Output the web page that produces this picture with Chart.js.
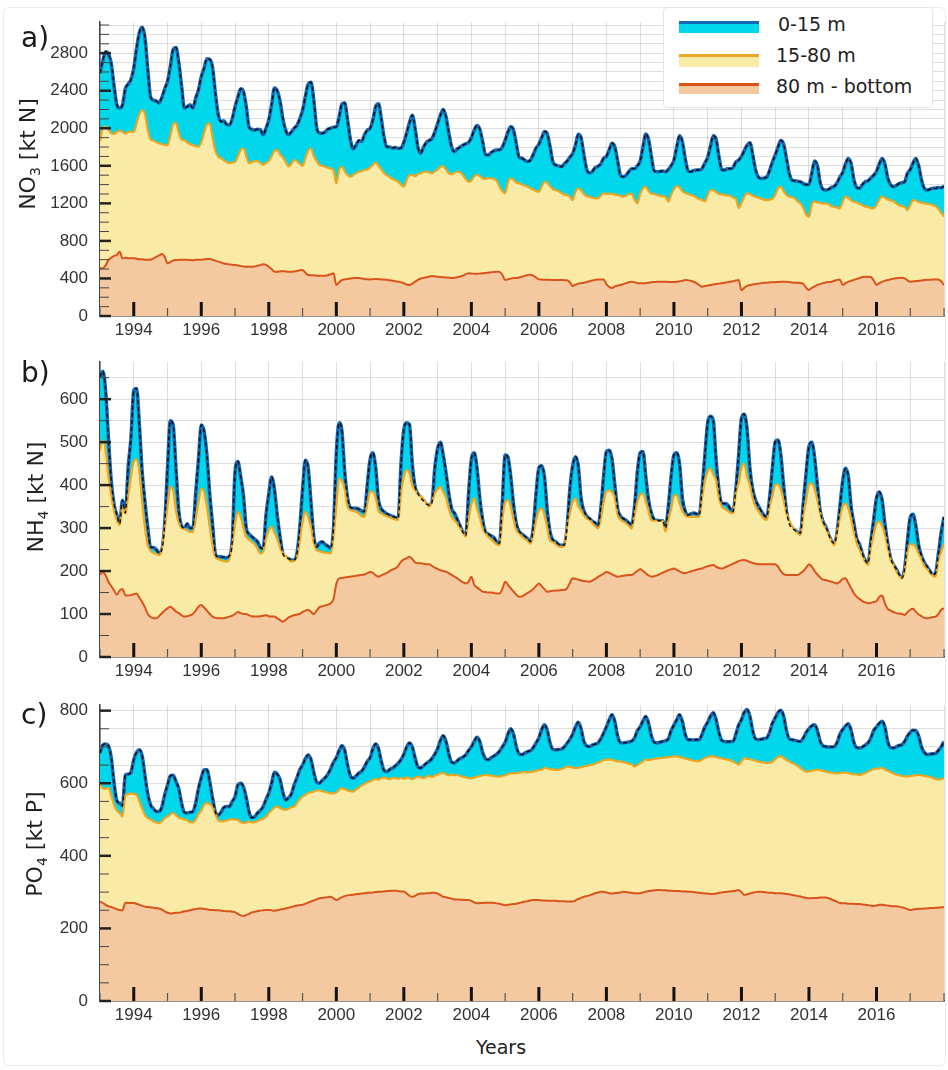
<!DOCTYPE html>
<html>
<head>
<meta charset="utf-8">
<script src="https://cdn.jsdelivr.net/npm/chart.js"></script>
<style>
  body { margin: 0; background: #fff; width: 948px; height: 1070px; position: relative; overflow: hidden; font-family: "DejaVu Sans", sans-serif; }
  .frame { position: absolute; left: 3px; top: 7px; width: 943px; height: 1059px; border: 1px solid #ececec; border-radius: 6px; box-sizing: border-box; }
  canvas { position: absolute; left: 0; }
  .tag { position: absolute; left: 21px; font-size: 28px; line-height: 34px; color: #1a1a1a; }
  .ytitle { position: absolute; font-family: "DejaVu Sans"; font-size: 22px; color: #222; white-space: nowrap; transform: translate(-50%, -50%) rotate(-90deg); }
  .ytitle sub { font-size: 14px; }
  #legend { position: absolute; left: 663px; top: 7px; width: 270px; height: 101px; background: #fff; border: 1px solid #e4e4e4; border-radius: 4px; box-sizing: border-box; }
  #legend .sw { position: absolute; left: 15px; width: 80px; box-sizing: border-box; }
  #legend .lt { position: absolute; font-size: 19px; line-height: 22px; color: #222; white-space: pre; }
  .xtitle { position: absolute; left: 401px; width: 200px; top: 1036px; text-align: center; font-size: 19px; line-height: 22px; color: #222; }
</style>
</head>
<body>
<div class="frame"></div>
<canvas id="chartA" width="948" height="346" style="top:0px"></canvas>
<canvas id="chartB" width="948" height="347" style="top:340px"></canvas>
<canvas id="chartC" width="948" height="348" style="top:683px"></canvas>

<div class="tag" style="top:21px">a)</div>
<div class="tag" style="top:356px">b)</div>
<div class="tag" style="top:698px">c)</div>

<div class="ytitle" style="left:29px;top:154px">NO<sub>3</sub> [kt N]</div>
<div class="ytitle" style="left:37px;top:497px">NH<sub>4</sub> [kt N]</div>
<div class="ytitle" style="left:36px;top:844px">PO<sub>4</sub> [kt P]</div>

<div class="xtitle">Years</div>

<div id="legend">
  <div class="sw" style="top:13px;height:12px;border-top:3px solid #1467b3;background:#00d7ea"></div>
  <div class="lt" style="left:114px;top:5px">0-15 m</div>
  <div class="sw" style="top:46px;height:13px;border-top:3px solid #eaa624;background:#f9eaa6"></div>
  <div class="lt" style="left:112px;top:36px">15-80 m</div>
  <div class="sw" style="top:75px;height:11px;border-top:3px solid #d9541c;background:#f5c9a0"></div>
  <div class="lt" style="left:112px;top:67px">80 m - bottom</div>
</div>

<script>
// monthly values, Jan 1993 .. Jan 2018 (one row per year)
const startYear = 1993;
const endYear = 2018;

const no3Total = [
  2585,2720,2815,2790,2690,2450,2250,2215,2250,2420,2470,2520,
  2640,2850,3020,3075,2960,2620,2330,2300,2290,2270,2330,2420,
  2500,2660,2840,2860,2700,2450,2215,2230,2250,2215,2320,2410,
  2550,2640,2740,2735,2650,2380,2150,2070,2080,2040,2034,2100,
  2230,2330,2420,2390,2230,2010,1990,1980,1990,1985,1930,2000,
  2090,2250,2430,2400,2290,2100,1980,1930,1960,2000,2030,2100,
  2190,2340,2470,2490,2300,2010,1950,1946,1960,1990,2000,2010,
  2016,2120,2260,2270,2090,1880,1780,1820,1870,1860,1930,1980,
  2000,2090,2230,2260,2100,1900,1800,1800,1790,1795,1785,1790,
  1850,1950,2060,2140,2000,1800,1735,1800,1850,1870,1890,1960,
  2050,2140,2200,2120,1950,1800,1750,1780,1800,1820,1835,1850,
  1900,1980,2030,1990,1860,1720,1715,1740,1760,1768,1770,1800,
  1870,1960,2015,1980,1830,1690,1680,1660,1645,1660,1720,1790,
  1830,1900,1965,1940,1800,1640,1608,1600,1590,1620,1650,1690,
  1730,1820,1935,1900,1720,1560,1525,1540,1580,1595,1620,1680,
  1700,1770,1840,1800,1650,1500,1484,1500,1540,1570,1570,1600,
  1650,1800,1940,1880,1700,1545,1537,1540,1545,1537,1560,1600,
  1660,1800,1920,1860,1680,1550,1537,1550,1555,1555,1570,1630,
  1690,1810,1920,1880,1700,1560,1555,1570,1570,1580,1640,1660,
  1700,1760,1820,1845,1720,1560,1480,1466,1470,1480,1550,1640,
  1715,1800,1870,1830,1680,1520,1448,1440,1435,1430,1410,1400,
  1400,1520,1650,1600,1420,1350,1342,1350,1370,1380,1420,1480,
  1530,1620,1679,1620,1450,1370,1360,1400,1430,1440,1470,1500,
  1540,1620,1679,1620,1470,1400,1377,1390,1410,1420,1430,1520,
  1560,1630,1679,1600,1450,1360,1342,1350,1360,1360,1370,1365,
  1385
];
const no3Below15 = [
  1860,2000,2020,1980,1950,1940,1960,1975,1960,1945,1960,1965,
  1960,2050,2150,2194,2150,1980,1880,1870,1850,1840,1830,1820,
  1820,1920,2040,2059,1950,1880,1870,1850,1830,1820,1810,1803,
  1850,1950,2040,2052,1900,1760,1697,1680,1660,1640,1629,1635,
  1640,1700,1770,1787,1700,1630,1640,1650,1650,1630,1611,1630,
  1650,1700,1760,1768,1720,1690,1640,1593,1620,1660,1650,1620,
  1600,1680,1760,1787,1700,1650,1610,1600,1590,1580,1570,1555,
  1413,1560,1590,1540,1500,1484,1500,1520,1537,1545,1555,1560,
  1580,1610,1633,1600,1560,1520,1500,1480,1460,1445,1430,1400,
  1377,1450,1500,1502,1490,1510,1520,1537,1537,1530,1520,1540,
  1560,1590,1597,1560,1520,1510,1525,1537,1530,1500,1460,1430,
  1440,1490,1502,1490,1466,1460,1470,1466,1460,1440,1380,1330,
  1307,1420,1466,1450,1420,1413,1400,1390,1377,1360,1345,1330,
  1324,1380,1430,1420,1380,1350,1342,1330,1310,1295,1289,1270,
  1235,1320,1360,1340,1300,1275,1270,1260,1254,1254,1280,1307,
  1300,1300,1300,1295,1290,1280,1271,1280,1300,1300,1240,1200,
  1300,1360,1377,1330,1306,1300,1290,1280,1275,1271,1218,1290,
  1350,1385,1370,1330,1310,1300,1290,1280,1260,1245,1235,1220,
  1290,1342,1340,1320,1300,1295,1290,1285,1280,1260,1250,1150,
  1200,1270,1306,1300,1280,1271,1260,1250,1240,1235,1240,1250,
  1290,1360,1377,1330,1290,1271,1265,1250,1220,1200,1150,1080,
  1058,1190,1218,1210,1205,1200,1200,1190,1170,1165,1155,1147,
  1220,1271,1260,1230,1218,1210,1195,1180,1165,1160,1150,1147,
  1180,1240,1271,1260,1240,1235,1220,1200,1180,1170,1165,1129,
  1180,1235,1230,1215,1205,1200,1195,1190,1182,1170,1140,1100,
  1058
];
const no3Below80 = [
  508,510,540,596,620,640,650,685,612,620,615,614,
  614,610,605,605,600,600,600,615,630,645,660,630,
  561,575,590,596,598,600,600,598,596,595,598,600,
  600,603,606,606,600,590,579,570,560,555,550,545,
  543,538,533,528,525,525,525,528,535,542,550,545,
  525,500,472,472,475,478,475,472,472,475,480,488,
  490,460,437,435,432,430,428,428,430,435,445,455,
  330,360,383,390,395,400,403,406,406,400,395,392,
  390,392,394,392,390,388,385,380,375,370,365,360,
  350,335,330,345,365,385,400,406,412,420,425,422,
  418,415,412,410,408,406,408,412,420,430,445,455,
  452,450,450,452,455,458,462,466,470,472,470,440,
  383,390,398,404,406,410,418,428,438,440,430,410,
  390,388,387,386,385,384,383,383,383,382,381,360,
  320,335,345,350,355,362,370,378,385,390,390,388,
  340,310,298,315,325,330,340,350,360,365,360,350,
  348,348,350,355,360,362,365,366,366,365,363,362,
  362,365,370,375,383,380,375,365,350,330,312,320,
  325,330,335,340,345,350,355,360,365,370,378,383,
  275,300,320,330,335,340,345,350,353,355,358,360,
  360,362,364,365,365,362,358,355,355,352,340,300,
  277,300,315,330,340,350,358,362,365,375,385,390,
  330,350,365,375,385,395,405,415,419,419,415,380,
  330,350,365,375,383,390,398,402,405,408,400,380,
  365,368,372,375,378,383,385,387,388,390,390,370,
  330
];

const nh4Total = [
  652,665,620,510,410,355,330,310,365,335,440,510,
  620,625,540,430,360,300,255,255,250,242,250,310,
  440,550,540,440,340,305,300,310,300,300,380,460,
  540,525,470,380,310,240,233,233,232,231,235,270,
  430,455,420,375,300,286,280,274,268,255,252,330,
  380,419,390,330,280,240,232,229,226,226,240,300,
  390,458,440,360,280,256,265,268,262,258,253,300,
  474,545,525,430,370,348,346,346,344,340,338,400,
  460,475,440,365,345,338,333,330,327,325,323,450,
  530,545,541,450,396,380,370,363,356,353,360,440,
  485,500,470,428,380,345,335,320,305,290,282,380,
  460,475,440,370,320,291,286,282,278,268,264,360,
  470,465,420,355,310,292,286,281,275,268,300,381,
  440,445,419,340,290,272,268,262,260,260,300,390,
  445,466,445,370,340,328,322,316,312,305,345,420,
  478,481,460,400,345,328,322,318,312,307,350,430,
  475,478,420,365,335,320,318,317,317,300,350,420,
  470,475,450,370,340,330,333,335,333,330,390,470,
  545,560,550,458,390,357,357,355,345,338,390,470,
  555,565,530,440,390,365,352,340,330,326,370,440,
  500,505,470,400,340,310,300,295,290,288,360,430,
  490,500,465,400,340,315,303,285,270,264,290,350,
  410,439,420,350,310,275,262,240,225,218,270,320,
  370,384,365,310,265,230,215,205,192,183,205,270,
  325,332,305,260,235,220,210,200,191,195,240,290,
  326
];
const nh4Below15 = [
  481,505,480,419,375,340,318,307,350,334,375,420,
  455,460,430,360,300,260,247,242,240,237,250,300,
  350,396,388,340,312,300,298,295,291,291,320,360,
  392,385,350,303,260,232,228,225,223,222,228,260,
  310,338,326,300,280,273,268,262,252,241,245,275,
  295,303,290,275,255,241,235,228,222,224,232,270,
  315,338,325,303,265,249,246,244,243,242,241,280,
  350,415,410,390,350,342,340,338,334,328,326,355,
  385,385,370,340,334,330,328,325,322,320,319,380,
  420,435,428,400,388,380,374,368,358,350,360,381,
  390,396,385,370,345,326,318,310,300,290,280,320,
  355,370,345,325,300,288,280,274,268,262,260,320,
  360,365,350,320,295,288,280,275,270,264,285,319,
  340,346,330,300,270,268,262,258,256,258,300,335,
  360,369,350,342,330,322,319,312,305,299,320,360,
  385,388,384,370,330,320,315,311,305,299,330,360,
  378,380,362,340,318,317,317,317,317,292,320,345,
  375,377,357,340,330,326,326,326,326,326,370,410,
  432,439,425,410,370,350,345,340,336,334,380,405,
  440,450,420,400,370,350,340,330,322,319,350,375,
  400,402,390,365,335,318,305,295,288,284,330,365,
  400,404,390,365,335,310,299,285,270,260,290,325,
  350,357,345,320,290,265,250,235,222,214,255,285,
  310,315,305,285,255,226,215,200,190,183,200,245,
  262,262,255,240,228,212,205,196,189,187,225,245,
  264
];
const nh4Below80 = [
  191,198,190,175,165,155,145,155,158,144,143,144,
  146,148,138,128,115,100,93,90,90,95,102,108,
  113,117,112,106,102,97,94,95,97,100,108,117,
  121,115,108,100,94,91,90,90,90,92,94,96,
  100,105,102,100,100,97,95,94,94,95,96,97,
  95,94,94,90,86,82,86,92,95,97,99,100,
  105,108,110,105,100,108,116,118,120,122,125,135,
  170,183,184,185,186,187,188,189,190,191,192,195,
  198,196,190,187,190,193,196,200,204,206,212,222,
  227,230,233,228,220,218,218,217,216,216,212,208,
  205,202,200,198,195,191,187,183,178,174,171,175,
  187,168,162,157,152,151,150,150,149,148,148,158,
  175,168,160,152,145,140,141,145,149,153,158,165,
  171,165,158,152,153,154,155,155,156,156,160,172,
  183,182,180,178,177,176,175,178,182,186,190,194,
  198,196,192,189,187,188,189,190,191,191,195,200,
  205,200,195,190,187,188,190,193,196,199,202,204,
  206,203,199,196,195,197,199,201,203,205,206,209,
  211,213,214,210,207,206,208,211,214,217,220,223,
  225,226,224,221,219,217,216,216,216,216,216,216,
  216,210,200,193,191,191,191,191,191,195,200,208,
  216,210,200,192,185,180,179,177,175,173,171,175,
  182,183,172,160,148,140,135,130,127,125,126,128,
  130,140,143,125,112,108,105,102,101,100,98,104,
  110,112,105,99,95,91,90,91,93,94,100,110,
  113
];

const po4Total = [
  683,705,708,703,670,600,552,545,538,623,625,630,
  665,685,692,675,620,570,540,530,522,522,535,568,
  595,620,622,605,585,545,520,518,520,522,545,585,
  615,637,637,605,560,520,512,520,533,536,536,550,
  563,595,600,590,560,520,505,508,518,525,536,555,
  573,600,630,625,610,575,554,560,570,595,615,637,
  650,668,678,665,630,603,600,608,615,625,640,658,
  670,690,703,690,650,620,614,620,628,633,645,660,
  670,695,708,695,660,635,632,638,642,648,655,665,
  680,700,711,700,670,645,642,648,655,660,668,680,
  695,718,731,715,680,658,656,662,668,672,678,690,
  700,715,727,715,685,668,665,670,675,680,688,700,
  712,735,750,735,700,681,679,683,687,690,698,711,
  725,748,761,745,710,693,692,693,694,700,710,721,
  735,755,768,750,715,703,701,705,708,711,722,738,
  755,775,789,770,730,712,711,712,714,716,725,745,
  755,772,784,765,730,713,711,713,715,717,722,745,
  760,775,789,770,735,720,720,719,720,720,735,755,
  768,785,794,775,740,718,715,714,715,715,735,760,
  775,795,803,785,745,722,720,721,723,725,740,765,
  780,795,801,785,745,722,720,718,716,715,725,740,
  750,758,761,745,715,703,701,700,700,701,712,735,
  748,758,764,745,712,698,697,700,705,711,725,745,
  755,765,771,755,715,698,697,700,704,706,715,730,
  740,746,745,730,700,685,679,680,681,682,690,700,
  715
];
const po4Below15 = [
  600,585,585,587,565,540,525,518,508,565,570,572,
  570,568,550,530,512,504,500,495,492,490,495,504,
  508,514,518,512,505,503,500,498,492,492,500,515,
  525,540,545,543,535,515,498,495,495,497,500,501,
  500,499,493,490,492,494,492,493,496,499,502,508,
  518,525,533,536,532,528,527,530,534,536,545,556,
  563,568,573,575,577,580,580,578,576,574,572,572,
  575,582,586,584,580,578,577,582,588,594,598,602,
  605,609,612,610,614,616,613,611,615,614,612,615,
  612,616,614,611,615,618,616,614,618,620,617,621,
  624,627,628,625,622,624,622,623,620,618,616,614,
  614,616,618,620,622,623,622,621,620,619,618,620,
  622,625,628,627,628,629,630,631,630,631,632,634,
  636,638,642,641,639,638,637,637,639,642,646,645,
  643,642,642,644,646,648,650,651,654,657,660,664,
  665,665,665,662,660,660,658,656,654,652,646,650,
  655,660,665,664,665,667,668,669,670,671,672,673,
  674,674,672,670,668,666,664,662,661,661,665,670,
  672,674,674,672,670,668,666,665,663,660,656,651,
  660,669,668,666,664,662,660,658,657,656,656,660,
  666,672,674,670,664,660,656,652,647,642,636,632,
  633,634,636,637,636,634,632,630,629,628,627,628,
  629,630,628,626,625,624,623,625,628,632,636,639,
  640,641,642,638,634,630,627,624,622,620,619,619,
  620,621,622,623,622,620,619,617,614,612,610,611,
  614
];
const po4Below80 = [
  274,270,265,261,259,256,253,251,250,271,270,270,
  270,268,265,262,260,259,258,257,256,255,252,247,
  243,241,242,243,243,245,247,248,250,252,253,255,
  255,254,253,251,251,250,250,249,248,247,247,246,
  245,240,236,234,237,240,244,246,248,249,250,251,
  251,250,249,250,252,253,255,257,259,261,263,264,
  265,268,271,274,277,280,283,284,285,286,287,283,
  278,282,286,289,291,292,293,294,295,296,297,298,
  298,299,300,301,301,302,303,303,304,304,303,302,
  302,296,290,287,290,294,296,296,297,297,298,298,
  296,292,287,286,284,282,280,280,279,279,278,278,
  276,272,269,270,270,271,271,271,270,269,268,266,
  264,265,266,267,268,270,272,274,275,277,278,278,
  278,277,277,276,276,276,276,275,275,275,274,274,
  274,277,281,284,287,289,291,294,297,299,301,301,
  299,297,296,297,298,299,301,300,299,298,297,297,
  297,299,301,303,304,305,306,306,305,305,304,304,
  303,303,303,302,302,301,301,300,299,298,297,296,
  296,295,295,296,298,299,300,301,302,303,304,306,
  300,292,294,296,298,300,301,301,300,299,298,298,
  297,297,297,296,295,294,292,291,289,288,286,284,
  283,283,284,284,285,285,285,283,280,277,273,270,
  269,269,268,268,268,267,267,266,265,264,263,262,
  263,265,265,264,263,262,261,261,260,258,256,253,
  251,252,253,254,254,255,255,256,256,257,257,258,
  258
];

// labelled ticks
const yearLabels = [1994, 1996, 1998, 2000, 2002, 2004, 2006, 2008, 2010, 2012, 2014, 2016];
const no3Labels = [0, 400, 800, 1200, 1600, 2000, 2400, 2800];
const nh4Labels = [0, 100, 200, 300, 400, 500, 600];
const po4Labels = [0, 200, 400, 600, 800];

const CYAN = '#00d7ea', BLUE = '#1467b3';
const YELLOW = '#f9eaa6', ORANGE = '#eaa624';
const PEACH = '#f5c9a0', RED = '#d9541c';
const GRID = 'rgba(0,0,0,0.13)';

function toPoints(values) {
  return values.map((v, i) => ({ x: startYear + i / 12, y: v }));
}

function stepTicks(min, max, step) {
  const out = [];
  for (let v = min; v <= max + 1e-9; v += step) out.push({ value: v });
  return out;
}

// short tick marks drawn inside the plot, as in the figure
const innerTicks = {
  id: 'innerTicks',
  afterDraw(chart) {
    const { ctx, chartArea: a, scales: { x, y } } = chart;
    ctx.save();
    x.ticks.forEach(t => {
      const px = x.getPixelForValue(t.value);
      const major = yearLabels.includes(Math.round(t.value));
      ctx.strokeStyle = major ? '#111' : '#555';
      ctx.lineWidth = major ? 3 : 1.2;
      ctx.beginPath();
      ctx.moveTo(px, a.bottom);
      ctx.lineTo(px, a.bottom - (major ? 14 : 8));
      ctx.stroke();
    });
    y.ticks.forEach(t => {
      const py = y.getPixelForValue(t.value);
      const major = chart.options.plugins.innerTicks.labels.includes(Math.round(t.value));
      ctx.strokeStyle = major ? '#222' : '#444';
      ctx.lineWidth = major ? 2.5 : 1;
      ctx.beginPath();
      ctx.moveTo(a.left, py);
      ctx.lineTo(a.left + (major ? 11 : 9), py);
      ctx.stroke();
    });
    ctx.restore();
  }
};

function makePanel(id, total, mid, bottom, yMax, yStep, labels) {
  new Chart(document.getElementById(id), {
    type: 'line',
    data: {
      datasets: [
        { label: '0-15 m', data: toPoints(total), borderColor: BLUE, borderWidth: 3.5,
          backgroundColor: CYAN, fill: 'origin', order: 3 },
        { label: '0-15 m (dashed)', data: toPoints(total), borderColor: '#0a0a0a', borderWidth: 1.4,
          borderDash: [4, 3], fill: false, order: 0 },
        { label: '15-80 m', data: toPoints(mid), borderColor: ORANGE, borderWidth: 2.2,
          backgroundColor: YELLOW, fill: 'origin', order: 2 },
        { label: '80 m - bottom', data: toPoints(bottom), borderColor: RED, borderWidth: 2,
          backgroundColor: PEACH, fill: 'origin', order: 1 }
      ]
    },
    options: {
      responsive: false,
      animation: false,
      devicePixelRatio: 1,
      layout: { padding: { top: 22, right: 3, left: 0, bottom: 0 } },
      elements: { point: { radius: 0 }, line: { cubicInterpolationMode: 'monotone' } },
      plugins: { legend: { display: false }, tooltip: { enabled: false }, innerTicks: { labels } },
      scales: {
        x: {
          type: 'linear', min: startYear, max: endYear, z: 1,
          afterBuildTicks: s => { s.ticks = stepTicks(startYear, endYear, 1); },
          afterFit: s => { s.height = 30; },
          grid: { color: GRID, drawTicks: false },
          border: { color: '#444', width: 1.5 },
          ticks: {
            autoSkip: false, maxRotation: 0, padding: 4, color: '#333',
            font: { family: 'Liberation Sans', size: 17 },
            callback: v => yearLabels.includes(Math.round(v)) ? String(Math.round(v)) : ''
          }
        },
        y: {
          min: 0, max: yMax, z: 1,
          afterBuildTicks: s => { s.ticks = stepTicks(0, yMax, yStep); },
          afterFit: s => { s.width = 100; },
          grid: { color: GRID, drawTicks: false },
          border: { color: '#444', width: 1.5 },
          ticks: {
            autoSkip: false, padding: 12, color: '#333',
            font: { family: 'Liberation Sans', size: 17 },
            callback: v => labels.includes(Math.round(v)) ? String(Math.round(v)) : ''
          }
        }
      }
    },
    plugins: [innerTicks]
  });
}

makePanel('chartA', no3Total, no3Below15, no3Below80, 3130, 100, no3Labels);
makePanel('chartB', nh4Total, nh4Below15, nh4Below80, 686, 50, nh4Labels);
makePanel('chartC', po4Total, po4Below15, po4Below80, 815, 50, po4Labels);
</script>
</body>
</html>
